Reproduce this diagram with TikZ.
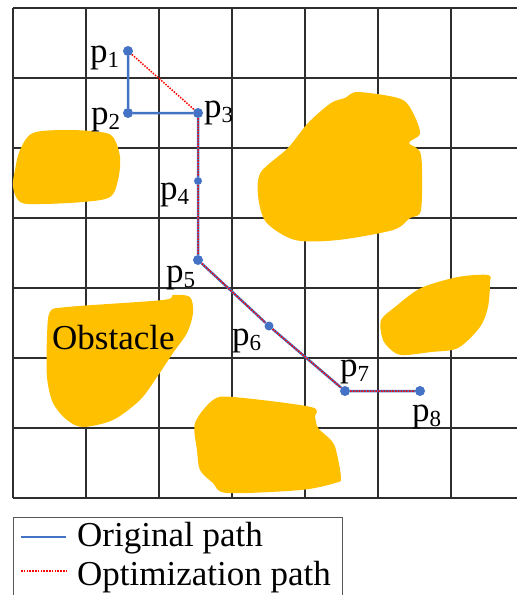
\documentclass[tikz,border=0pt]{standalone}
\usepackage{fontspec}
\setmainfont{Liberation Serif}
\usetikzlibrary{positioning}
\definecolor{oro}{HTML}{FFC000}
\definecolor{azul}{HTML}{4472C4}
\definecolor{rojo}{HTML}{FF0000}
\definecolor{rejilla}{HTML}{2E2E2E}
\newcommand{\pidx}[1]{p\raisebox{-0.16em}{\fontsize{23}{25}\selectfont #1}}
\tikzset{
  malla/.style={rejilla, line width=1.4pt},
  obst/.style={fill=oro, draw=none},
  punto/.style={circle, fill=azul, inner sep=0pt, minimum size=10pt},
  etiq/.style={anchor=base west, inner sep=0pt, font=\fontsize{35}{41}\selectfont},
  orig/.style={azul, line width=2.5pt},
  optim/.style={rojo, line width=1.5pt, dash pattern=on 1.5pt off 1.3pt},
  leyenda/.style={draw=rejilla!80, line width=1pt},
}
\begin{document}
\begin{tikzpicture}[x=1pt, y=-1pt]
  \useasboundingbox (0,0) rectangle (517,595);
  \clip (0,0) rectangle (517,595);
  % malla
  \foreach \x in {13,86,...,451} \draw[malla] (\x,8) -- (\x,498);
  \foreach \y in {8,78,...,498} \draw[malla] (13,\y) -- (530,\y);
  % obstaculos
  \fill[obst] plot[smooth cycle, tension=0.55] coordinates {(33,133) (67,130) (100,132) (113,137) (120,157) (118,180) (110,197) (83,202) (40,204) (20,202) (13,187) (15,170) (20,150)};
  \fill[obst] plot[smooth cycle, tension=0.5] coordinates {(358,92) (401,99) (414,115) (420,134) (409,143) (421,155) (421,210) (410,218) (393,230) (338,240) (295,240) (266,222) (258,195) (261,172) (288,148) (308,123) (331,103) (345,98)};
  \fill[obst] plot[smooth cycle, tension=0.5] coordinates {(50,312) (67,307) (163,300) (173,295) (190,297) (193,313) (187,333) (173,353) (157,377) (140,400) (113,420) (83,427) (67,420) (53,403) (47,377) (47,337)};
  \fill[obst] plot[smooth cycle, tension=0.5] coordinates {(195,423) (213,400) (233,397) (311,407) (315,417) (318,428) (331,440) (336,450) (341,478) (335,483) (301,490) (227,493) (213,483) (200,470) (197,450)};
  \fill[obst] plot[smooth cycle, tension=0.5] coordinates {(381,320) (395,307) (421,288) (458,277) (488,275) (490,283) (488,307) (480,327) (458,348) (431,352) (401,355) (388,347) (382,337)};
  \node[etiq] (obs) at (52,349) {Obstacle};
  % puntos
  \node[punto] (p1) at (128,51) {};
  \node[punto] (p2) at (128,113) {};
  \node[punto] (p3) at (198,113) {};
  \node[punto, minimum size=8pt] (p4) at (198,181) {};
  \node[punto] (p5) at (198,260) {};
  \node[punto, minimum size=9pt] (p6) at (269,326) {};
  \node[punto] (p7) at (345,391) {};
  \node[punto] (p8) at (420,391) {};
  \draw[orig] (p1) -- (p2) -- (p3) -- (p4) -- (p5) -- (p6) -- (p7) -- (p8);
  \draw[optim] (p1) -- (p3) -- (p4) -- (p5) -- (p6) -- (p7) -- (p8);
  \node[etiq] (e1) at (90,62) {\pidx{1}};
  \node[etiq] (e2) at (91,124) {\pidx{2}};
  \node[etiq] (e3) at (204,117) {\pidx{3}};
  \node[etiq] (e4) at (160,199) {\pidx{4}};
  \node[etiq] (e5) at (166,282) {\pidx{5}};
  \node[etiq] (e6) at (232,345) {\pidx{6}};
  \node[etiq] (e7) at (340,376) {\pidx{7}};
  \node[etiq] (e8) at (412,421) {\pidx{8}};
  % leyenda
  \draw[leyenda] (13,600) -- (13,517) -- (342,517) -- (342,600);
  \coordinate (l1a) at (21,537); \coordinate (l1b) at (66,537);
  \coordinate (l2a) at (21,571); \coordinate (l2b) at (66,571);
  \draw[orig, line width=2pt] (l1a) -- (l1b);
  \draw[optim] (l2a) -- (l2b);
  \node[etiq] (t1) at (77,546) {Original path};
  \node[etiq] (t2) at (77,585) {Optimization path};
\end{tikzpicture}
\end{document}
